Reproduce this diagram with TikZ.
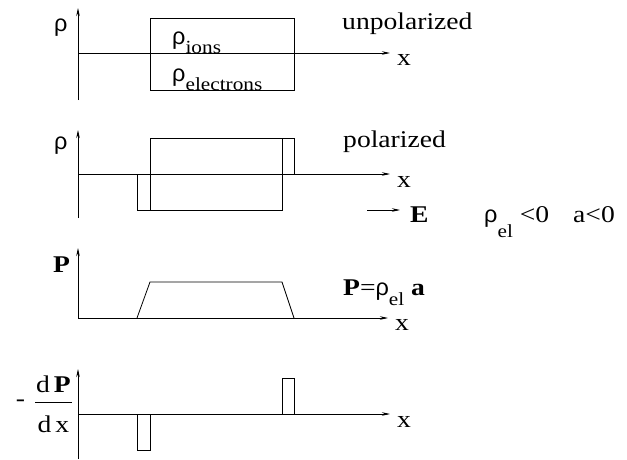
\documentclass[tikz,border=0pt]{standalone}
\usepackage{fontspec}
\setmainfont{Liberation Serif}[FakeStretch=1.15]
\newfontfamily\grk{Liberation Sans}
\usetikzlibrary{arrows.meta}
\tikzset{
  ax/.style={line width=0.7pt, -{Stealth[length=8pt,width=3.5pt,inset=2.5pt]}},
  ln/.style={line width=0.8pt},
  txt/.style={inner sep=0pt, anchor=base west, font=\fontsize{24}{28}\selectfont},
  sym/.style={inner sep=0pt, anchor=base west, font=\grk\fontsize{23.5}{26}\selectfont},
}
\newcommand\subtxt[2]{\raisebox{-#1}{\rmfamily\fontsize{18.5}{20}\selectfont #2}}
\newcommand\maintxt{\rmfamily\fontsize{24}{28}\selectfont}
\begin{document}
\begin{tikzpicture}[x=1pt,y=-1pt]
\useasboundingbox (0,0) rectangle (627,459);
% ---------- panel 1: unpolarized
\coordinate (a1b) at (78,100); \coordinate (a1t) at (78,8);
\coordinate (h1l) at (78,53);  \coordinate (h1r) at (390,53);
\draw[ax] (a1b) -- (a1t);
\draw[ax] (h1l) -- (h1r);
\draw[ln] (150,18) rectangle (294,90);
\node[sym] (rho1) at (54,31) {ρ};
\node[txt] (unp) at (342,29) {unpolarized};
\node[txt] (x1) at (397,65) {x};
\node[sym] (rhoi) at (172,44) {ρ\subtxt{9pt}{ions}};
\node[sym] (rhoe) at (172,81) {ρ\subtxt{9pt}{electrons}};
% ---------- panel 2: polarized
\coordinate (a2b) at (78,218); \coordinate (a2t) at (78,130);
\coordinate (h2l) at (78,174); \coordinate (h2r) at (390,174);
\draw[ax] (a2b) -- (a2t);
\draw[ax] (h2l) -- (h2r);
\draw[ln] (150,138) rectangle (282,210);
\draw[ln] (137,174) rectangle (150,210);
\draw[ln] (282,138) rectangle (294,174);
\node[sym] (rho2) at (54,149) {ρ};
\node[txt] (pol) at (343,147) {polarized};
\node[txt] (x2) at (397,187) {x};
\coordinate (e1) at (367,210); \coordinate (e2) at (400,210);
\draw[ax] (e1) -- (e2);
\node[txt] (E) at (410,222) {\textbf{E}};
\node[sym] (rhoel) at (484,222) {ρ\subtxt{15pt}{el}\maintxt\ <0};
\node[txt] (alt) at (573,222) {a<0};
% ---------- panel 3: P
\coordinate (a3b) at (78,318); \coordinate (a3t) at (78,248);
\coordinate (h3l) at (78,318); \coordinate (h3r) at (388,318);
\draw[ax] (a3b) -- (a3t);
\draw[ax] (h3l) -- (h3r);
\draw[ln] (137,318) -- (150,282) -- (282,282) -- (294,318);
\node[txt] (P3) at (53,272) {\textbf{P}};
\node[txt] (x3) at (395,330) {x};
\node[txt] (Peq) at (343,295) {\textbf{P}=\grk\fontsize{23.5}{26}\selectfont ρ\subtxt{10pt}{el}\maintxt\ \textbf{a}};
% ---------- panel 4: -dP/dx
\coordinate (a4b) at (78,459); \coordinate (a4t) at (78,369);
\coordinate (h4l) at (78,414); \coordinate (h4r) at (390,414);
\draw[ax] (a4b) -- (a4t);
\draw[ax] (h4l) -- (h4r);
\draw[ln] (137,414) rectangle (150,450);
\draw[ln] (282,378) rectangle (294,414);
\node[txt] (x4) at (397,427) {x};
\node[txt, anchor=base] (num) at (53.5,392) {d\,\textbf{P}};
\node[txt, anchor=base] (den) at (53.5,432) {d\,x};
\draw[line width=0.9pt] (35,402) -- (72,402);
\node[txt, anchor=center] (minus) at (20.5,403) {-};
\end{tikzpicture}
\end{document}
